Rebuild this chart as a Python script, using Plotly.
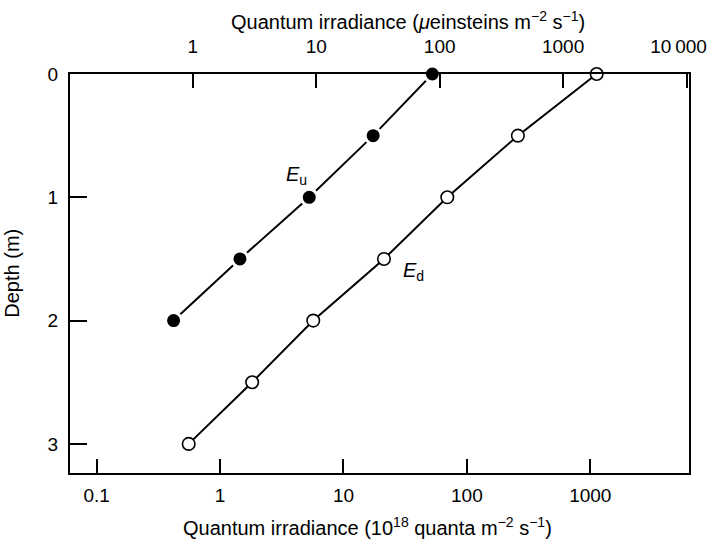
import math
import plotly.graph_objects as go

# Depth profiles of quantum irradiance (10^18 quanta m^-2 s^-1)
depth_up = [0, 0.5, 1.0, 1.5, 2.0]
upward = [52.5, 17.4, 5.28, 1.45, 0.42]

depth_down = [0, 0.5, 1.0, 1.5, 2.0, 2.5, 3.0]
downward = [1127, 259, 69.4, 21.3, 5.69, 1.82, 0.557]

# Axis ticks
depth_ticks = [0, 1, 2, 3]
quanta_ticks = [0.1, 1, 10, 100, 1000]
quanta_ticktext = ["0.1", "1", "10", "100", "1000"]
einstein_ticks = [1, 10, 100, 1000, 10000]
einstein_ticktext = ["1", "10", "100", "1000", ""]
# the last top label sits at the frame corner and is nudged left to stay on the page
corner_tick = [10000]
corner_ticktext = ["10\u2009000"]

# 1 µeinstein = 6.022e17 quanta = 0.6022 x 10^18 quanta
QUANTA_PER_UEINSTEIN = 0.6022

x_lo, x_hi = 0.0608, 6310.0
y_lo, y_hi = 0.0, 3.236

FONT = "Liberation Sans, Arial, sans-serif"
TICK_SIZE = 19
TITLE_SIZE = 20

fig = go.Figure()

fig.add_trace(go.Scatter(
    x=upward, y=depth_up, mode="lines+markers",
    line=dict(color="black", width=2),
    marker=dict(size=16, color="black", line=dict(color="white", width=3)),
    showlegend=False, cliponaxis=False,
))
fig.add_trace(go.Scatter(
    x=downward, y=depth_down, mode="lines+markers",
    line=dict(color="black", width=2),
    marker=dict(size=12.5, color="white", line=dict(color="black", width=1.6)),
    showlegend=False, cliponaxis=False,
))
# empty traces that carry the top (µeinstein) axes
fig.add_trace(go.Scatter(x=[], y=[], xaxis="x2", yaxis="y", showlegend=False))
fig.add_trace(go.Scatter(x=[], y=[], xaxis="x3", yaxis="y", showlegend=False))

top_range = [math.log10(x_lo / QUANTA_PER_UEINSTEIN),
             math.log10(x_hi / QUANTA_PER_UEINSTEIN)]

fig.update_layout(
    width=712, height=541,
    margin=dict(l=70, r=23, t=74, b=68, autoexpand=False),
    paper_bgcolor="white", plot_bgcolor="white",
    font=dict(family=FONT, size=TICK_SIZE, color="black"),
    xaxis=dict(
        type="log",
        range=[math.log10(x_lo), math.log10(x_hi)],
        tickvals=quanta_ticks, ticktext=quanta_ticktext,
        ticks="inside", ticklen=14, tickwidth=2, tickcolor="black",
        showline=True, linecolor="black", linewidth=2, mirror=True,
        showgrid=False, zeroline=False, automargin=False,
        tickfont=dict(size=TICK_SIZE),
        ticklabelstandoff=4,
    ),
    xaxis2=dict(
        type="log", overlaying="x", side="top", anchor="y",
        range=top_range,
        tickvals=einstein_ticks, ticktext=einstein_ticktext,
        ticks="inside", ticklen=14, tickwidth=2, tickcolor="black",
        showline=False, showgrid=False, zeroline=False, automargin=False,
        tickfont=dict(size=TICK_SIZE),
        ticklabelstandoff=16,
    ),
    xaxis3=dict(
        type="log", overlaying="x", side="top", anchor="y",
        range=top_range,
        tickvals=corner_tick, ticktext=corner_ticktext,
        ticks="", showline=False, showgrid=False, zeroline=False, automargin=False,
        tickfont=dict(size=TICK_SIZE),
        ticklabelstandoff=16, ticklabelshift=-8,
        ticklabeloverflow="allow",
    ),
    yaxis=dict(
        range=[y_hi, y_lo],
        tickvals=depth_ticks,
        ticks="inside", ticklen=17, tickwidth=2, tickcolor="black",
        showline=True, linecolor="black", linewidth=2, mirror=True,
        showgrid=False, zeroline=False, automargin=False,
        tickfont=dict(size=TICK_SIZE),
        ticklabelstandoff=6,
    ),
)

annotations = [
    dict(text="Quantum irradiance (10<sup>18</sup> quanta m<sup>\u22122</sup> s<sup>\u22121</sup>)",
         xref="paper", yref="paper", x=0.48, y=-0.135, xanchor="center", yanchor="middle",
         showarrow=False, font=dict(size=TITLE_SIZE)),
    dict(text="Quantum irradiance (<i>\u03bc</i>einsteins m<sup>\u22122</sup> s<sup>\u22121</sup>)",
         xref="paper", yref="paper", x=0.546, y=1.135, xanchor="center", yanchor="middle",
         showarrow=False, font=dict(size=TITLE_SIZE)),
    dict(text="Depth (m)", textangle=-90,
         xref="paper", yref="paper", x=-0.095, y=0.5, xanchor="center", yanchor="middle",
         showarrow=False, font=dict(size=TITLE_SIZE)),
    dict(text="<i>E</i><sub>u</sub>", x=math.log10(4.2), y=0.82, xref="x", yref="y",
         showarrow=False, font=dict(size=20)),
    dict(text="<i>E</i><sub>d</sub>", x=math.log10(36.6), y=1.60, xref="x", yref="y",
         showarrow=False, font=dict(size=20)),
]
fig.update_layout(annotations=annotations)

fig.write_html("out.html")
